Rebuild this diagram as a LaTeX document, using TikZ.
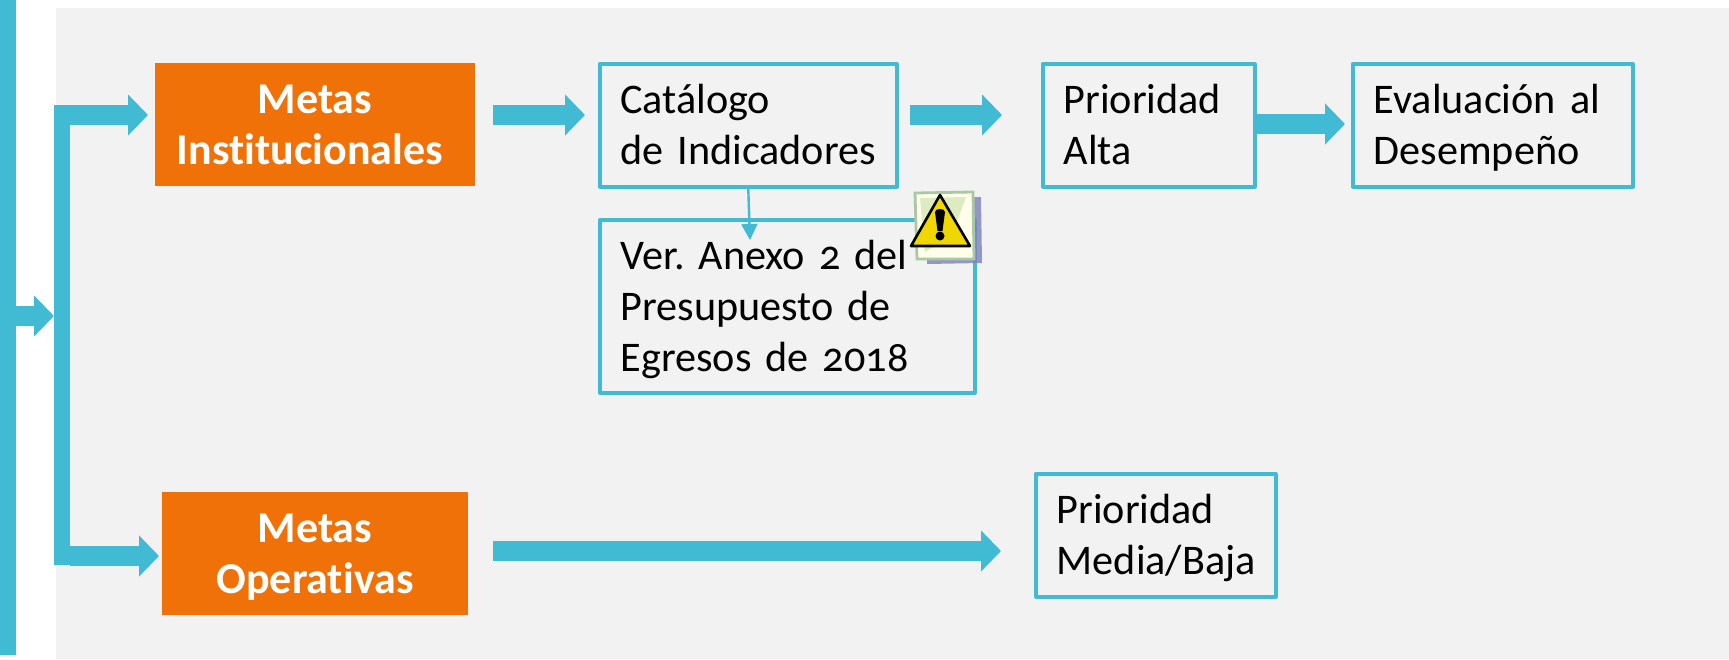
\documentclass[tikz,border=0pt]{standalone}
\usepackage{fontspec}
\setmainfont[Numbers=OldStyle,Ligatures=NoCommon]{Carlito}
\usetikzlibrary{arrows.meta}
\definecolor{cyanb}{HTML}{41BAD4}
\definecolor{orangeb}{HTML}{EF7108}
\definecolor{grayb}{HTML}{F2F2F2}
\definecolor{shadowb}{HTML}{8080BC}
\definecolor{paperedge}{HTML}{A9C9A4}
\definecolor{paperfill}{HTML}{FFFFEA}
\definecolor{paperpatch}{HTML}{DDEBC0}
\definecolor{warnfill}{HTML}{EFD800}
\newcommand\firstln{\rule{0pt}{20pt}}
\newcommand\lastln{\rule[-6pt]{0pt}{6pt}}
\newcommand\onelinetext[1]{\mbox{#1}}
\tikzset{
  x=0.5pt,y=-0.5pt,
  blockarrow/.style={draw=cyanb,line width=10pt,-{Triangle[length=10pt,width=20pt,fill=cyanb]}},
  thinarrow/.style={draw=cyanb,line width=1.2pt,-{Triangle[length=8pt,width=8pt,fill=cyanb]}},
  metabox/.style={fill=orangeb,text=white,font=\fontsize{22}{25.5}\selectfont\bfseries,align=center,inner sep=0pt,outer sep=0pt,anchor=north west},
  infobox/.style={draw=cyanb,line width=1.75pt,line join=round,font=\fontsize{21.1}{25.5}\selectfont,align=left,inner sep=0pt,anchor=north west},
  barbox/.style={fill=cyanb,inner sep=0pt,outer sep=0pt,anchor=north west},
}
\begin{document}
\frenchspacing\hyphenpenalty=10000\spaceskip=3.7pt\relax
\begin{tikzpicture}
\useasboundingbox (0,0) rectangle (1729,659);
\fill[grayb] (56,8) rectangle (1729,659);
\node[barbox,minimum width=8pt,minimum height=327.5pt] (bar) at (0,0) {};
\node[barbox,minimum width=8pt,minimum height=230pt] (trunk) at (54,105) {};
\node[metabox,minimum width=160pt,minimum height=61.5pt] (inst) at (155,63) {\firstln Metas\\Institucionales\hspace*{5pt}\lastln};
\node[metabox,minimum width=153pt,minimum height=61.5pt] (oper) at (162,492) {\firstln Metas\\Operativas\lastln};
\node[infobox,minimum width=148.5pt,minimum height=61.5pt,text width=128pt] (cat) at (598,62) {\firstln Catálogo\\\onelinetext{de Indicadores}\lastln};
\node[infobox,minimum width=187.5pt,minimum height=86.5pt,text width=166.5pt] (ver) at (598,218) {\firstln\onelinetext{Ver. Anexo 2 del}\\\onelinetext{Presupuesto de}\\\onelinetext{Egresos de 2018}\lastln};
\node[infobox,minimum width=106pt,minimum height=61.5pt,text width=85pt] (alta) at (1041,62) {\firstln Prioridad\\Alta\lastln};
\node[infobox,minimum width=140pt,minimum height=61.5pt,text width=119pt] (eval) at (1351,62) {\firstln\onelinetext{Evaluación al}\\Desempeño\lastln};
\node[infobox,minimum width=120pt,minimum height=61.5pt,text width=99pt] (media) at (1034,472) {\firstln Prioridad\\Media/Baja\lastln};
\coordinate (rowa) at (0,115);
\coordinate (rowb) at (0,316);
\coordinate (rowc) at (0,556);
\coordinate (rowd) at (0,551);
\coordinate (rowe) at (0,124);
\coordinate (thintip) at (750,240);
\draw[blockarrow] (bar.east |- rowb) -- (trunk.west |- rowb);
\draw[blockarrow,shorten >=3.5pt] (trunk.west |- rowa) -- (inst.west |- rowa);
\draw[blockarrow,shorten >=1.5pt] (trunk.east |- rowc) -- (oper.west |- rowc);
\draw[blockarrow,shorten <=9pt,shorten >=6.5pt] (inst.east |- rowa) -- (cat.west |- rowa);
\draw[blockarrow,shorten <=5.5pt,shorten >=19.5pt] (cat.east |- rowa) -- (alta.west |- rowa);
\draw[blockarrow,shorten >=3pt] (alta.east |- rowe) -- (eval.west |- rowe);
\draw[blockarrow,shorten <=12.5pt,shorten >=16.5pt] (oper.east |- rowd) -- (media.west |- rowd);
\draw[thinarrow] (cat.south) -- (thintip);
% warning icon
\fill[shadowb,opacity=.8] (927,198) -- (981,197) -- (982,263) -- (927,264) -- cycle;
\filldraw[draw=paperedge,fill=paperfill,line width=1.4pt] (915,193) -- (973,192) -- (974,259) -- (917,259) -- cycle;
\fill[paperpatch] (920,198) -- (966,197) -- (952,235) -- (925,252) -- cycle;
\filldraw[draw=black,fill=warnfill,line width=1.3pt,line join=round] (940,195) -- (970,246) -- (911,246) -- cycle;
\fill[black] (935,212) .. controls (935,208) and (945,208) .. (945,212) -- (942.5,231) -- (937.5,231) -- cycle;
\fill[black] (940,236) circle[radius=4.5];
\end{tikzpicture}
\end{document}
